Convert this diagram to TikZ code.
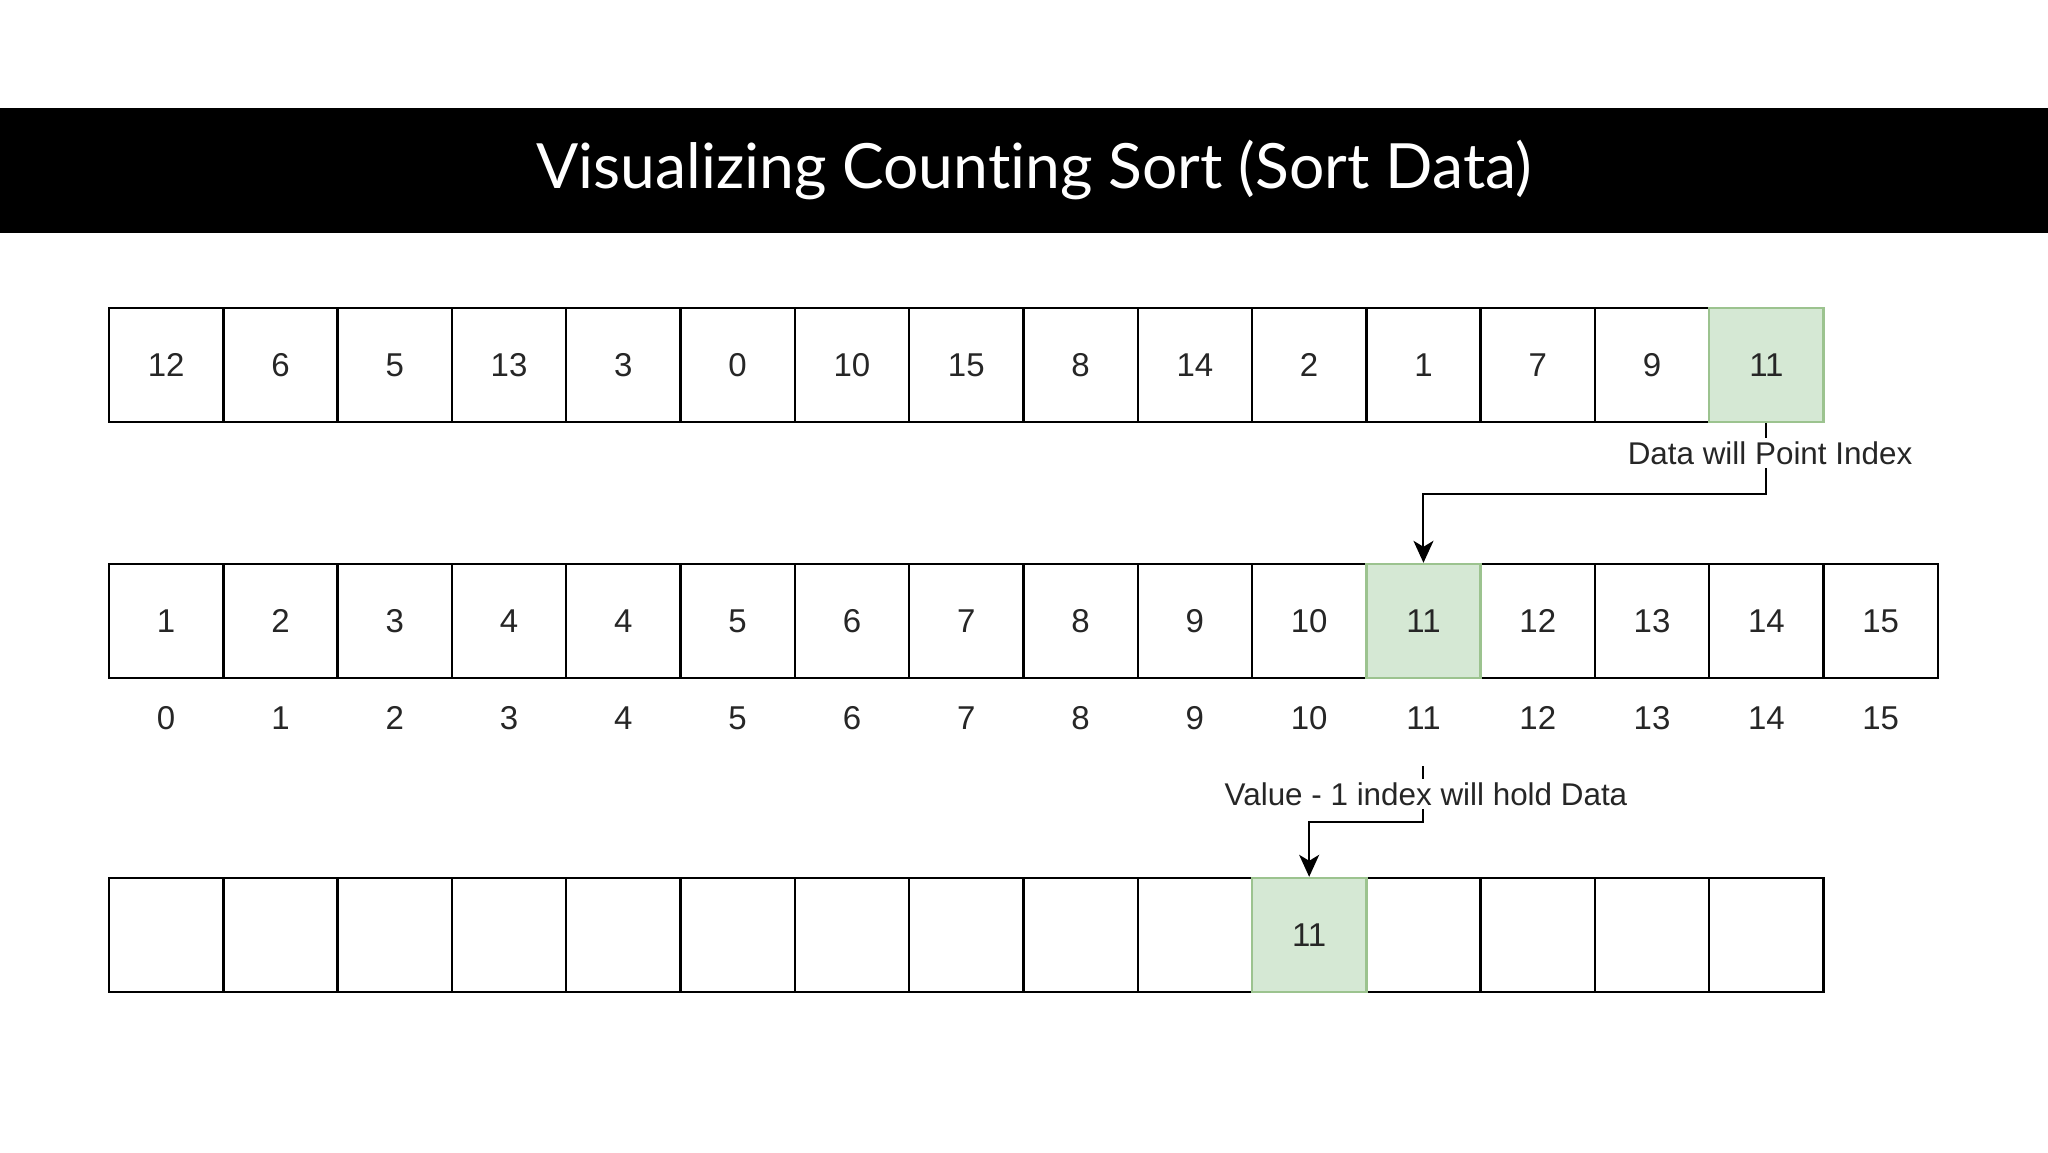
\documentclass[tikz,border=0pt]{standalone}
\usepackage{fontspec}
\setmainfont{Liberation Sans}
\newfontfamily\titlefont[Ligatures={NoCommon}]{Lato}
\usetikzlibrary{arrows.meta}
\definecolor{cellgreen}{HTML}{D5E8D4}
\definecolor{cellgreenborder}{HTML}{9CC38F}
\definecolor{txt}{HTML}{262626}
\begin{document}
\begin{tikzpicture}[x=0.5pt,y=-0.5pt,
  cell/.style={draw=black, line width=1.2pt, minimum width=57.15pt, minimum height=57pt, inner sep=0pt, font=\fontsize{16.5}{18}\selectfont, text=txt},
  hl/.style={cell, fill=cellgreen, draw=cellgreenborder},
  idx/.style={inner sep=0pt, minimum width=57pt, minimum height=48pt, font=\fontsize{16.5}{18}\selectfont, text=txt},
  note/.style={fill=white, inner sep=1.5pt, font=\fontsize{15.7}{17}\selectfont, text=txt},
  conn/.style={line width=1pt, draw=black, -{Stealth[length=11pt,width=10pt,inset=3pt]}}]
\useasboundingbox (0,0) rectangle (2048,1152);
\fill[white] (0,0) rectangle (2048,1152);
% title bar
\fill[black] (0,108) rectangle (2048,233);
\node[font=\titlefont\fontsize{31.2}{38}\selectfont, text=white] (title) at (1034,170) {Visualizing Counting Sort (Sort Data)};
% row 1
\foreach \v [count=\i from 0] in {12,6,5,13,3,0,10,15,8,14,2,1,7,9} {
  \node[cell] (r1c\i) at ({109+(\i+0.5)*114.3},365) {\v};
}
\node[hl] (r1c14) at ({109+14.5*114.3},365) {11};
% row 2
\foreach \v [count=\i from 0] in {1,2,3,4,4,5,6,7,8,9,10,x,12,13,14,15} {
  \ifnum\i=11\relax\else
  \node[cell] (r2c\i) at ({109+(\i+0.5)*114.3},621) {\v};
  \fi
}
\node[hl] (r2c11) at ({109+11.5*114.3},621) {11};
\foreach \i in {0,...,15} {
  \node[idx] (i\i) at ({109+(\i+0.5)*114.3},718) {\i};
}
% row 3
\foreach \i in {0,...,9,11,12,13,14} {
  \node[cell] (r3c\i) at ({109+(\i+0.5)*114.3},935) {};
}
\node[hl] (r3c10) at ({109+10.5*114.3},935) {11};
% connectors
\draw[conn] (r1c14.south) -- ++(0,71) -| (r2c11.north);
\node[note] (n1) at (1770,453) {Data will Point Index};
\draw[conn] (i11.south) -- ++(0,56) -| (r3c10.north);
\node[note] (n2) at (1426,794) {Value - 1 index will hold Data};
\end{tikzpicture}
\end{document}
